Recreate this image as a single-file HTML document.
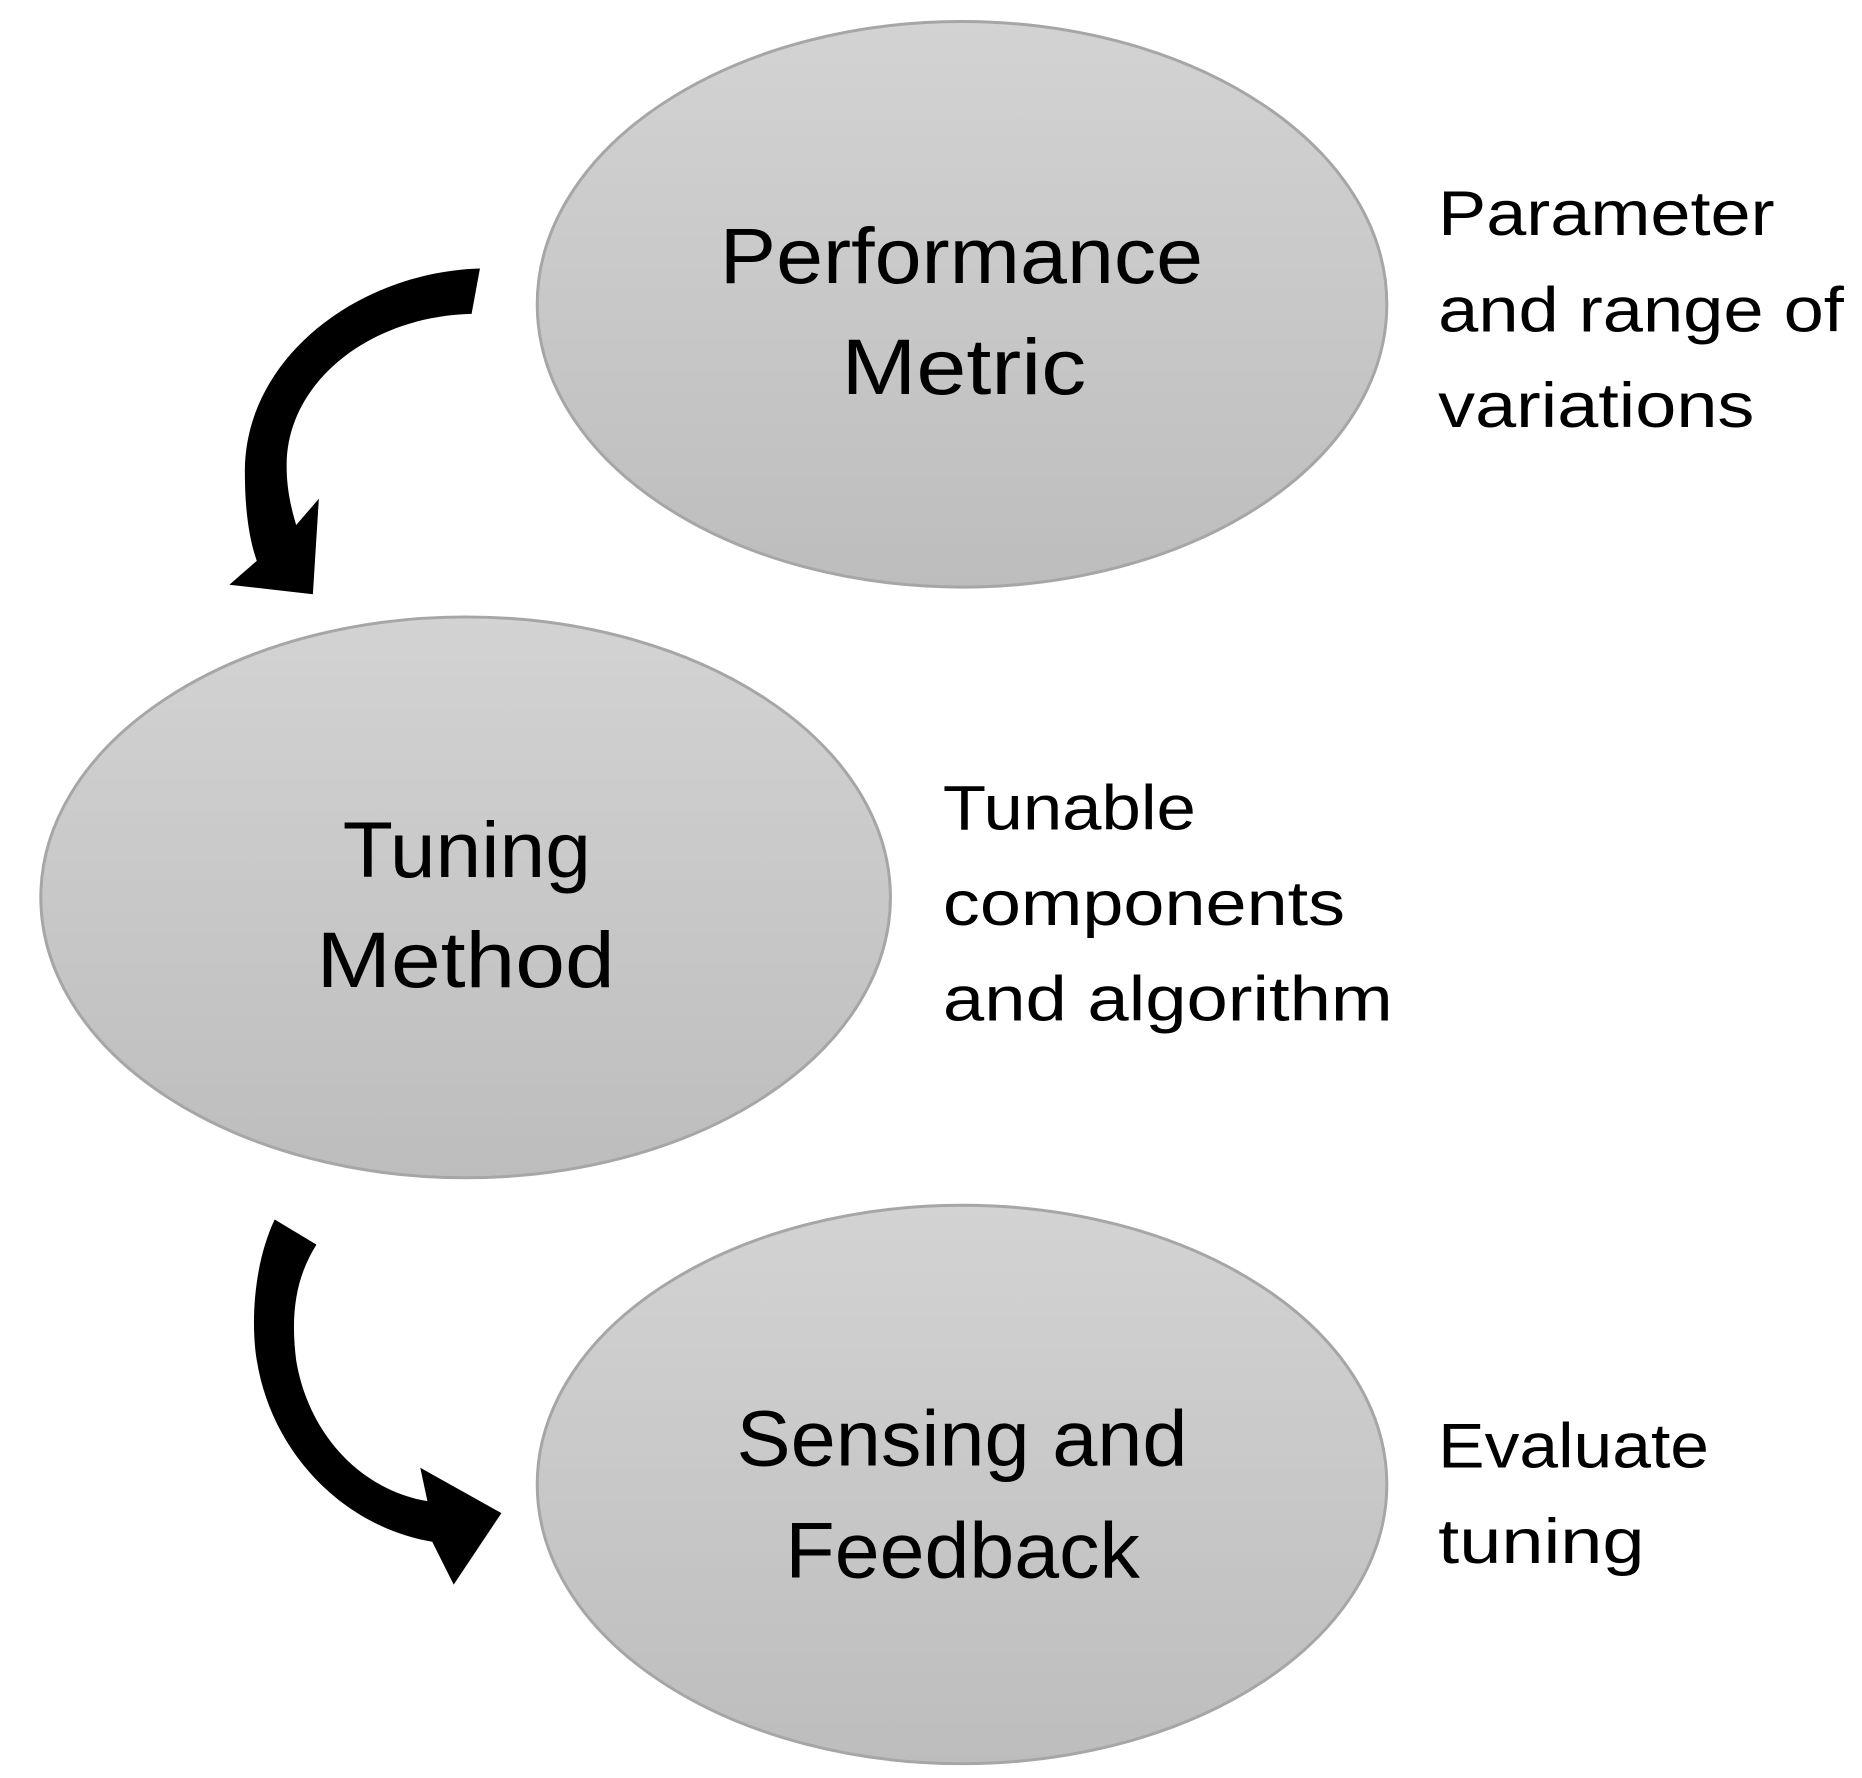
<!DOCTYPE html>
<html><head><meta charset="utf-8"><style>html,body{margin:0;padding:0;background:#fff}svg{display:block}</style></head>
<body>
<svg width="1862" height="1778" viewBox="0 0 1560 1490" xmlns="http://www.w3.org/2000/svg">
<defs>
<linearGradient id="g" x1="0" y1="0" x2="0" y2="1">
<stop offset="0" stop-color="#d3d3d3"/><stop offset="1" stop-color="#bdbdbd"/>
</linearGradient>
</defs>
<rect width="1560" height="1490" fill="#fff"/>
<ellipse cx="806" cy="255" rx="356" ry="237" fill="url(#g)" stroke="#a6a6a6" stroke-width="2.5"/>
<ellipse cx="390" cy="752" rx="356" ry="235" fill="url(#g)" stroke="#a6a6a6" stroke-width="2.5"/>
<ellipse cx="806" cy="1244" rx="356" ry="234" fill="url(#g)" stroke="#a6a6a6" stroke-width="2.5"/>
<path d="M402,225 C300,228 205,300 205,395 C205,425 208,450 215,470 L192,490 L262,498 L267,418 L248,440 C242,420 240,405 240,390 C240,320 310,265 395,263 Z" fill="#000"/>
<path d="M230,1022 C212,1060 210,1110 215,1140 C228,1220 290,1280 362,1292 L380,1328 L420,1268 L352,1230 L358,1258 C300,1248 258,1200 248,1140 C243,1100 248,1070 265,1043 Z" fill="#000"/>
<g font-family="Liberation Sans, sans-serif" fill="#000">
<g font-size="66">
<text x="603" y="237" textLength="405" lengthAdjust="spacingAndGlyphs">Performance</text>
<text x="705" y="330" textLength="205" lengthAdjust="spacingAndGlyphs">Metric</text>
<text x="287" y="735" textLength="208" lengthAdjust="spacingAndGlyphs">Tuning</text>
<text x="265" y="827" textLength="250" lengthAdjust="spacingAndGlyphs">Method</text>
<text x="617" y="1228" textLength="378" lengthAdjust="spacingAndGlyphs">Sensing and</text>
<text x="658" y="1322" textLength="297" lengthAdjust="spacingAndGlyphs">Feedback</text>
</g>
<g font-size="53">
<text x="1205" y="197" textLength="282" lengthAdjust="spacingAndGlyphs">Parameter</text>
<text x="1205" y="278" textLength="340" lengthAdjust="spacingAndGlyphs">and range of</text>
<text x="1205" y="358" textLength="265" lengthAdjust="spacingAndGlyphs">variations</text>
<text x="790" y="695" textLength="212" lengthAdjust="spacingAndGlyphs">Tunable</text>
<text x="790" y="775" textLength="337" lengthAdjust="spacingAndGlyphs">components</text>
<text x="790" y="855" textLength="377" lengthAdjust="spacingAndGlyphs">and algorithm</text>
<text x="1205" y="1230" textLength="227" lengthAdjust="spacingAndGlyphs">Evaluate</text>
<text x="1205" y="1310" textLength="173" lengthAdjust="spacingAndGlyphs">tuning</text>
</g>
</g>
</svg>
</body></html>
